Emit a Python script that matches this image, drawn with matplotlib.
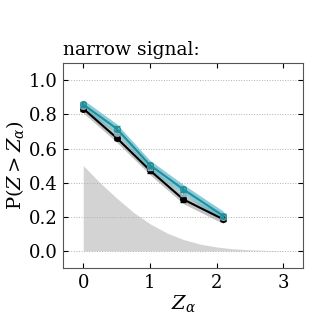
import numpy as np
import matplotlib
matplotlib.use("Agg")
import matplotlib.pyplot as plt

plt.rcParams['font.family'] = ['DejaVu Serif']
plt.rcParams['mathtext.fontset'] = 'dejavuserif'

# data
z_alpha = [0.0, 0.5, 1.0, 1.5, 2.1]
p_black = [0.834, 0.663, 0.472, 0.302, 0.185]
p_teal = [0.858, 0.717, 0.503, 0.361, 0.205]
p_open = [0.850, 0.692, 0.490, 0.337, 0.198]
err_black = [0.012, 0.015, 0.015, 0.014, 0.010]
err_teal = [0.012, 0.015, 0.015, 0.014, 0.010]

z_ref = [0.0, 0.25, 0.5, 0.75, 1.0, 1.25, 1.5, 1.75, 2.0, 2.25, 2.5, 2.75, 3.0]
p_ref = [0.5, 0.40, 0.31, 0.227, 0.159, 0.106, 0.067, 0.040, 0.023, 0.012, 0.006, 0.003, 0.001]

fig = plt.figure(figsize=(3.16, 3.16), dpi=100)
ax = fig.add_axes([0.2, 0.152, 0.76, 0.648])

ax.fill_between(z_ref, 0, p_ref, color='#d3d3d3', lw=0, zorder=1)

x = np.array(z_alpha)
pb = np.array(p_black)
pt = np.array(p_teal)
ax.fill_between(x, pb - 0.025, pb + 0.025, color='#999999', alpha=0.6, lw=0, zorder=2)
ax.fill_between(x, pt - 0.028, pt + 0.028, color='#5bb6c9', alpha=0.7, lw=0, zorder=3)

ax.errorbar(z_alpha, p_black, yerr=err_black, color='black', marker='o', ms=4,
            lw=1.5, capsize=2, zorder=4)
ax.errorbar(z_alpha, p_open, yerr=err_teal, color='#8fa8b8', marker='o', ms=4,
            mfc='none', lw=0, elinewidth=1, capsize=2, zorder=5)
ax.errorbar(z_alpha, p_teal, yerr=err_teal, color='#1f8f99', marker='o', ms=4,
            mfc='none', lw=1.5, capsize=2, zorder=6)

ax.set_xlim(-0.3, 3.3)
ax.set_ylim(-0.1, 1.1)
ax.set_xticks([0, 1, 2, 3])
ax.set_yticks([0.0, 0.2, 0.4, 0.6, 0.8, 1.0])
ax.yaxis.grid(True, ls=':', color='#b0b0b0', lw=0.7)
ax.tick_params(direction='in', top=True, right=True, labelsize=13, pad=4)
for s in ax.spines.values():
    s.set_color('#555555')

ax.set_xlabel(r'$Z_\alpha$', fontsize=14, labelpad=1)
ax.set_ylabel(r'$\mathrm{P}(Z > Z_\alpha)$', fontsize=14, labelpad=2)
ax.set_title('narrow signal:', loc='left', fontsize=13.5)

fig.savefig('out.png', dpi=100)
